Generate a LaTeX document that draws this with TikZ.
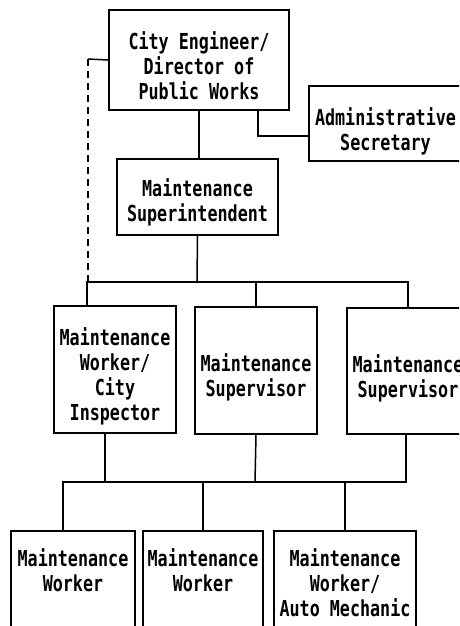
\documentclass[tikz,border=0pt]{standalone}
\usepackage{fontspec}
\newfontfamily\orgfont{DejaVu Sans Mono}[FakeStretch=0.76]
\tikzset{
  post/.style={draw, line width=1.5pt, align=center, inner sep=0pt, text height=#1, text depth=0pt},
  lowpost/.style={post=#1, anchor=north, text depth=100pt, inner ysep=20pt},
  link/.style={line width=1.5pt},
  staff/.style={line width=1.5pt, dash pattern=on 7pt off 5pt}
}
\begin{document}
\begin{tikzpicture}[x=1pt,y=-1pt,font=\orgfont\bfseries\fontsize{22}{25}\selectfont]
  \useasboundingbox (0,0) rectangle (459,626);
  \clip (0,0) rectangle (459,626);
  % head and staff
  \node[post=78pt, minimum width=180pt, minimum height=100pt] (ce) at (199,60) {City Engineer/\\Director of\\Public Works};
  \node[post=53pt, minimum width=153pt, minimum height=75pt] (adm) at (385.5,123.5) {Administrative\\Secretary};
  \node[post=48pt, minimum width=161pt, minimum height=76pt] (sup) at (197.5,197) {Maintenance\\Superintendent};
  % second level
  \node[post=102pt, minimum width=122pt, minimum height=127pt] (mwci) at (115,369.5) {Maintenance\\Worker/\\City\\Inspector};
  \node[post=52pt, minimum width=122pt, minimum height=127pt] (sv1) at (256,370.5) {Maintenance\\Supervisor};
  \node[post=52pt, minimum width=122pt, minimum height=126pt] (sv2) at (408,371) {Maintenance\\Supervisor};
  % workers
  \node[lowpost=41pt, minimum width=124pt] (mw1) at (73,530) {Maintenance\\Worker};
  \node[lowpost=41pt, minimum width=120pt] (mw2) at (203,530) {Maintenance\\Worker};
  \node[lowpost=66pt, minimum width=142pt] (mwam) at (345,530) {Maintenance\\Worker/\\Auto Mechanic};

  \coordinate (j1) at (197,282);
  \coordinate (j2) at (255,482);
  \coordinate (dtop) at (88,59);

  \draw[link] (ce.south) -- (ce.south |- sup.north);
  \draw[link] ([xshift=59pt]ce.south) |- ([yshift=-12.5pt]adm.west);
  \draw[link] (sup.south) -- (j1);
  \draw[link] ([xshift=-28pt]mwci.north) |- (j1) -| (sv2.north);
  \draw[link] (sv1.north) -- (sv1.north |- j1);
  \draw[link] (ce.west) -- (dtop);
  \draw[staff] (dtop) -- (dtop |- j1);

  \draw[link] ([xshift=-10pt]mwci.south) -- ([xshift=-10pt]mwci.south |- j2);
  \draw[link] (sv1.south) -- (j2);
  \draw[link] ([xshift=-10pt]mw1.north) |- (j2) -| ([xshift=-2pt]sv2.south);
  \draw[link] (mw2.north) -- (mw2.north |- j2);
  \draw[link] (mwam.north) -- (mwam.north |- j2);
\end{tikzpicture}
\end{document}
